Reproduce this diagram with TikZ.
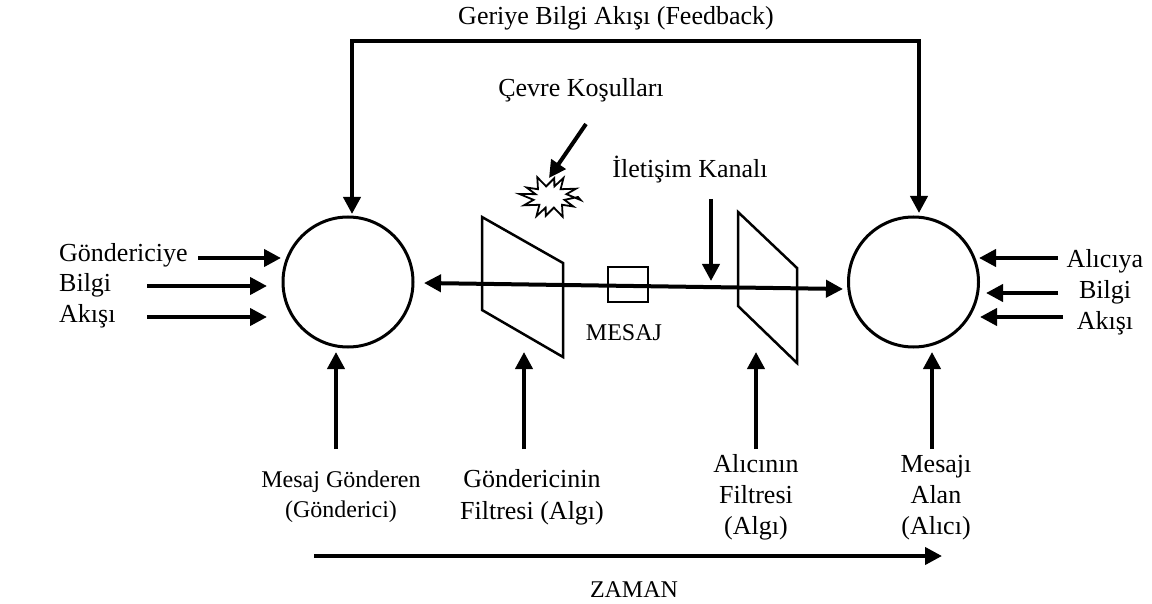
\documentclass[tikz,border=0pt]{standalone}
\usepackage{fontspec}
\setmainfont{Liberation Serif}
\usetikzlibrary{arrows.meta}
\begin{document}
\begin{tikzpicture}[x=1pt,y=-1pt,
  arr/.style={line width=4pt,-{Triangle[length=17pt,width=17pt]}},
  darr/.style={line width=4pt,line join=miter,{Triangle[length=17pt,width=17pt]}-{Triangle[length=17pt,width=17pt]}},
  lbl/.style={font=\fontsize{26}{31}\selectfont, inner sep=0pt},
  slbl/.style={font=\fontsize{24}{30}\selectfont, inner sep=0pt},
  person/.style={circle,draw,line width=3pt,minimum size=130pt,inner sep=0pt},
  filt/.style={line width=2.5pt,line join=miter}
]
\useasboundingbox (0,0) rectangle (1152,604);

% persons
\node[person] (S) at (348,282) {};
\node[person] (R) at (913.5,282) {};

% filters
\coordinate (f1a) at (482,217); \coordinate (f1b) at (563,263);
\coordinate (f1c) at (563,357); \coordinate (f1d) at (482,310);
\draw[filt] (f1a) -- (f1b) -- (f1c) -- (f1d) -- cycle;
\coordinate (f2a) at (738,212); \coordinate (f2b) at (797,268);
\coordinate (f2c) at (797,363); \coordinate (f2d) at (738,306);
\draw[filt] (f2a) -- (f2b) -- (f2c) -- (f2d) -- cycle;

% message
\coordinate (mL) at (424,283);
\coordinate (mR) at (843,289);
\draw[darr] (mL) -- (mR);
\node[draw,line width=2.5pt,minimum width=40pt,minimum height=35pt,inner sep=0pt] (box) at (628,284.5) {};
\node[slbl,anchor=base] (mesaj) at (624,340) {MESAJ};

% feedback
\coordinate (fbL) at (352,214);
\coordinate (fbR) at (919,213);
\draw[darr] (fbL) -- (352,41) -- (919,41) -- (fbR);
\node[lbl,anchor=base] (fbtext) at (616,25) {Geriye Bilgi Akışı (Feedback)};

% environment
\node[lbl,anchor=base] (cevre) at (581,97) {Çevre Koşulları};
\coordinate (cvS) at (586,124);
\coordinate (cvE) at (549,178);
\draw[arr] (cvS) -- (cvE);
\begin{scope}[shift={(550,197)}]
\draw[line width=1.8pt,line join=miter] (0:28 and 20)
  \foreach \i in {0,...,11} { -- ({\i*30+15}:{15+mod(\i,2)*2} and 11) -- ({(\i+1)*30+mod(\i,3)*4}:{27+mod(\i,3)*2} and {19+mod(\i,2)*3})} -- cycle;
\end{scope}

% channel
\node[lbl,anchor=base] (kanal) at (690,178) {İletişim Kanalı};
\coordinate (chS) at (711,199);
\coordinate (chE) at (711,281);
\draw[arr] (chS) -- (chE);

% left inputs
\node[lbl,anchor=base west,align=left] (gtext) at (59,323) {Göndericiye\\Bilgi\\Akışı};
\coordinate (l1s) at (198,258); \coordinate (l1e) at (281,258);
\coordinate (l2s) at (147,286); \coordinate (l2e) at (267,286);
\coordinate (l3s) at (147,317); \coordinate (l3e) at (267,317);
\draw[arr] (l1s) -- (l1e);
\draw[arr] (l2s) -- (l2e);
\draw[arr] (l3s) -- (l3e);

% right inputs
\node[lbl,anchor=base,align=center] (atext) at (1105,329) {Alıcıya\\Bilgi\\Akışı};
\coordinate (r1s) at (1058,258); \coordinate (r1e) at (979,258);
\coordinate (r2s) at (1058,293); \coordinate (r2e) at (986,293);
\coordinate (r3s) at (1063,317); \coordinate (r3e) at (980,317);
\draw[arr] (r1s) -- (r1e);
\draw[arr] (r2s) -- (r2e);
\draw[arr] (r3s) -- (r3e);

% bottom labels and arrows
\node[slbl,anchor=base,align=center] (l_send) at (341,517) {Mesaj Gönderen\\(Gönderici)};
\node[lbl,anchor=base,align=center,font=\fontsize{26}{32}\selectfont] (l_sf) at (532,519) {Göndericinin\\Filtresi (Algı)};
\node[lbl,anchor=base,align=center] (l_rf) at (756,534) {Alıcının\\Filtresi\\(Algı)};
\node[lbl,anchor=base,align=center] (l_rec) at (936,534) {Mesajı\\Alan\\(Alıcı)};
\foreach \x/\n in {336/a,524/b,756/c,932/d}{
  \coordinate (b\n s) at (\x,449);
  \coordinate (b\n e) at (\x,352);
  \draw[arr] (b\n s) -- (b\n e);
}

% time
\coordinate (tS) at (314,556);
\coordinate (tE) at (942,556);
\draw[arr] (tS) -- (tE);
\node[slbl,anchor=base] (zaman) at (634,597) {ZAMAN};
\end{tikzpicture}
\end{document}
